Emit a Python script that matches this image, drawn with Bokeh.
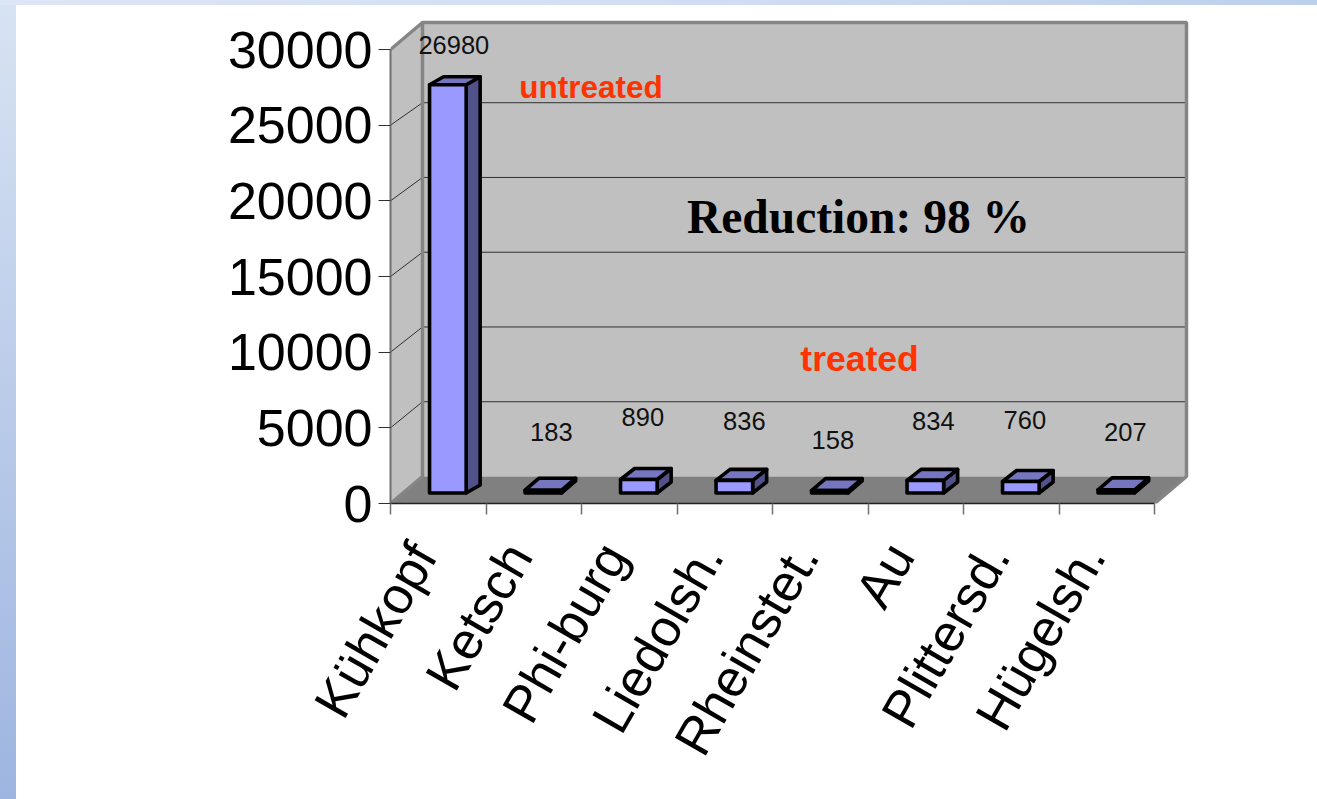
import math

from bokeh.core.properties import value
from bokeh.embed import file_html
from bokeh.models import FixedTicker, Label, LinearAxis, Range1d
from bokeh.plotting import figure
from bokeh.resources import INLINE

# Sites and counts
sites = ["Kühkopf", "Ketsch", "Phi-burg", "Liedolsh.", "Rheinstet.", "Au", "Plittersd.", "Hügelsh."]
counts = [26980, 183, 890, 836, 158, 834, 760, 207]
count_label_levels = [30265, 4693, 5684, 5419, 4229, 5419, 5486, 4693]
count_label_nudges = [-1, 1, -3, 3, -4, 1, -3, 2]
y_ticks = [0, 5000, 10000, 15000, 20000, 25000, 30000]

# Plot geometry: pixels per data unit of the front plane
PX_X = 95.5
PX_Y = 454 / 30000
FRAME_L, FRAME_R, FRAME_T, FRAME_B = 390, 1195, 18, 503
W, H = 1317, 799

# Oblique projection offsets, in data units
WALL_DX = 32 / PX_X
WALL_DY = 27 / PX_Y
BACK_SCALE = 0.988
BAR_DX = 14 / PX_X
BAR_RISE = [8, 12, 11, 11, 12, 11, 11, 12]
BAR_SHIFT_X = 9.6 / PX_X
BAR_SHIFT_Y = 10.5 / PX_Y
BAR_HALF = 18.3 / PX_X
LABEL_SHIFT = 15 / PX_X

X0, X1 = 0.5, len(sites) + 0.5
Y_MAX = y_ticks[-1]

GRADIENT = (
    "linear-gradient(#ffffff,#ffffff) 16px 5px / 1301px 794px no-repeat,"
    "linear-gradient(90deg,#dde6f5,#d0ddf2 55%,#bccfeb) 0 0 / 100% 5px no-repeat,"
    "linear-gradient(180deg,#d8e3f3,#9db5e0) 0 0 / 16px 100% no-repeat"
)

p = figure(
    width=W,
    height=H,
    output_backend="svg",
    toolbar_location=None,
    x_range=Range1d(X0, X0 + (FRAME_R - FRAME_L) / PX_X),
    y_range=Range1d(0, (FRAME_B - FRAME_T) / PX_Y),
    x_axis_type=None,
    y_axis_type=None,
    min_border_left=FRAME_L,
    min_border_right=W - FRAME_R,
    min_border_top=FRAME_T,
    min_border_bottom=H - FRAME_B,
    border_fill_color=None,
    background_fill_color=None,
    outline_line_color=None,
    styles={"background": GRADIENT},
)

# Walls and floor of the 3D box
p.patch([X0 + WALL_DX, X1 + WALL_DX, X1 + WALL_DX, X0 + WALL_DX],
        [WALL_DY, WALL_DY, Y_MAX + WALL_DY, Y_MAX + WALL_DY],
        fill_color="#c0c0c0", line_color=None)
p.patch([X0, X0 + WALL_DX, X0 + WALL_DX, X0],
        [0, WALL_DY, Y_MAX + WALL_DY, Y_MAX],
        fill_color="#c0c0c0", line_color=None)
p.patch([X0, X1, X1 + WALL_DX, X0 + WALL_DX],
        [0, 0, WALL_DY, WALL_DY],
        fill_color="#808080", line_color=None)

# Gridlines run across the left wall, then along the back wall
grid_values = y_ticks[1:-1]
p.multi_line(
    [[X0, X0 + WALL_DX, X1 + WALL_DX] for _ in grid_values],
    [[v, v * BACK_SCALE + WALL_DY, v * BACK_SCALE + WALL_DY] for v in grid_values],
    line_color="#303030", line_width=1,
)

# Heavy grey edges of the walls
p.multi_line(
    [[X0, X0 + WALL_DX, X1 + WALL_DX, X1 + WALL_DX, X1],
     [X0 + WALL_DX, X0 + WALL_DX, X0]],
    [[Y_MAX, Y_MAX + WALL_DY, Y_MAX + WALL_DY, WALL_DY, 0],
     [Y_MAX + WALL_DY, WALL_DY, 0]],
    line_color="#858585", line_width=3.5,
)

# Bars: side, top and front faces of each block
front_x, front_y, side_x, side_y, top_x, top_y = [], [], [], [], [], []
for i, count in enumerate(counts):
    left = i + 1 + BAR_SHIFT_X - BAR_HALF
    right = i + 1 + BAR_SHIFT_X + BAR_HALF
    base = BAR_SHIFT_Y
    top = base + count
    rise = BAR_RISE[i] / PX_Y
    front_x.append([left, right, right, left])
    front_y.append([base, base, top, top])
    side_x.append([right, right + BAR_DX, right + BAR_DX, right])
    side_y.append([base, base + rise, top + rise, top])
    top_x.append([left, right, right + BAR_DX, left + BAR_DX])
    top_y.append([top, top, top + rise, top + rise])

p.patches(side_x, side_y, fill_color="#52528a", line_color="black", line_width=3.6, line_join="round")
p.patches(top_x, top_y, fill_color="#7676c0", line_color="black", line_width=3.6, line_join="round")
p.patches(front_x, front_y, fill_color="#9999ff", line_color="black", line_width=3.6, line_join="round")

# Count above each bar
p.text(
    x=[i + 1 + BAR_SHIFT_X + (7 + count_label_nudges[i]) / PX_X for i in range(len(counts))],
    y=count_label_levels,
    text=[str(c) for c in counts],
    text_font=value("Liberation Sans"),
    text_font_size="25.5px",
    text_color="#111111",
    text_align="center",
    text_baseline="middle",
)

# Value axis
y_axis = LinearAxis(
    ticker=FixedTicker(ticks=y_ticks),
    bounds=(0, Y_MAX),
    axis_line_color="#707070",
    axis_line_width=2,
    major_tick_in=0,
    major_tick_out=12,
    major_tick_line_color="#303030",
    minor_tick_line_color=None,
    major_label_text_font="Liberation Sans",
    major_label_text_font_size="52px",
    major_label_text_color="black",
    major_label_standoff=6,
)
p.add_layout(y_axis, "left")

# Category axis: labels sit just left of the centres, tick marks on the boundaries
label_ticks = [round(i + 1 - LABEL_SHIFT, 4) for i in range(len(sites))]
boundaries = [i + 0.5 for i in range(len(sites) + 1)]
x_axis = LinearAxis(
    ticker=FixedTicker(ticks=label_ticks, minor_ticks=boundaries),
    major_label_overrides=dict(zip(label_ticks, sites)),
    bounds=(X0, X1),
    axis_line_color="#222222",
    axis_line_width=1.5,
    major_tick_line_color=None,
    minor_tick_in=0,
    minor_tick_out=11,
    minor_tick_line_color="#707070",
    minor_tick_line_width=1.5,
    major_label_orientation=math.radians(60),
    major_label_text_font="Liberation Sans",
    major_label_text_font_size="52px",
    major_label_text_color="black",
    major_label_standoff=33,
)
p.add_layout(x_axis, "below")


def x_at(px):
    return X0 + (px - FRAME_L) / PX_X


def y_at(px):
    return (FRAME_B - px) / PX_Y


# Free-standing captions on the back wall
for text, px, py, font, size, style, color in [
    ("untreated", 590.5, 86, "Liberation Sans", "31.5px", "bold", "#ff3300"),
    ("treated", 859, 358, "Liberation Sans", "35.5px", "bold", "#ff3300"),
    ("Reduction: 98 %", 858, 216, "Liberation Serif", "47.5px", "bold", "#000000"),
]:
    p.add_layout(Label(
        x=x_at(px), y=y_at(py), text=text,
        text_font=font, text_font_size=size, text_font_style=style,
        text_color=color, text_align="center", text_baseline="middle",
    ))

open("out.html", "w").write(file_html(p, INLINE))
